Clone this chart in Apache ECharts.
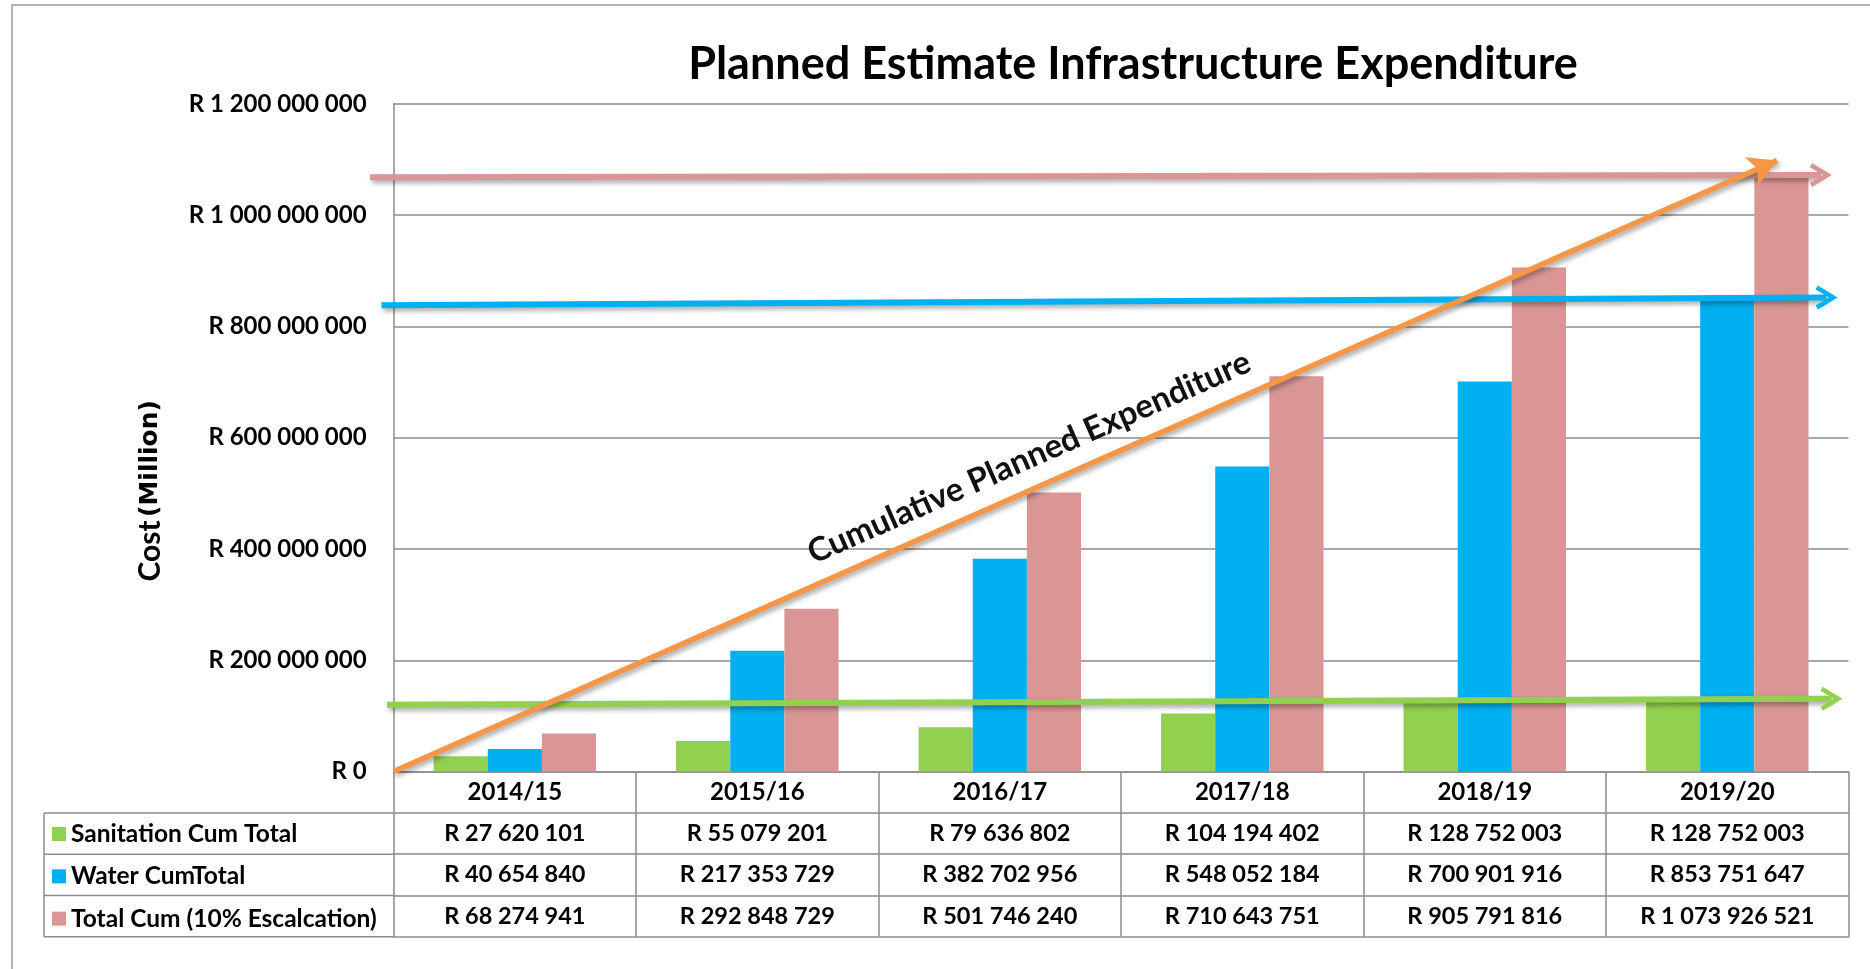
<!DOCTYPE html>
<html>
<head>
<meta charset="utf-8">
<script src="https://cdn.jsdelivr.net/npm/echarts@6/dist/echarts.min.js"></script>
<style>
  html, body { margin: 0; padding: 0; background: #fff; }
  #chart { width: 1870px; height: 969px; }
</style>
</head>
<body>
<div id="chart"></div>
<script>
// values
const years = ['2014/15', '2015/16', '2016/17', '2017/18', '2018/19', '2019/20'];
const sanitation = [27620101, 55079201, 79636802, 104194402, 128752003, 128752003];
const water = [40654840, 217353729, 382702956, 548052184, 700901916, 853751647];
const totalEsc = [68274941, 292848729, 501746240, 710643751, 905791816, 1073926521];

// annotation arrows, [x in category units, y in Rand]
const sanArrow = [[-0.027, 120e6], [5.93, 131e6]];
const waterArrow = [[-0.05, 838e6], [5.91, 852e6]];
const totalArrow = [[-0.097, 1068e6], [5.886, 1072e6]];
const cumArrow = [[0, 0], [5.705, 1098e6]];

const C_SAN = '#92D050', C_WAT = '#00B0F0', C_TOT = '#D99694', C_CUM = '#F79646';
const GRAY = '#8c8c8c';
const FONT = 'Lato';

// layout
const W = 1870, H = 969;
const gridL = 393.6, gridR = 1848.5, gridT = 103.8, gridB = 771.6;
const rowH = 41.3;
const tableL = 44;
const catW = (gridR - gridL) / 6;

const fmt = v => 'R ' + String(v).replace(/\B(?=(\d{3})+(?!\d))/g, ' ');

const chart = echarts.init(document.getElementById('chart'));

function tableAxis(data, row, showLabel, size) {
    return {
        type: 'category',
        gridIndex: 0,
        position: 'bottom',
        offset: rowH * row,
        data: data,
        axisLine: { show: true, lineStyle: { color: GRAY, width: 1.5 } },
        axisTick: { show: showLabel, length: rowH, interval: 0, lineStyle: { color: GRAY, width: 1.5 } },
        axisLabel: {
            show: showLabel, interval: 0, margin: 20.6 - size / 2,
            fontFamily: FONT, fontWeight: 'bold', fontSize: size, lineHeight: size, color: '#000'
        },
        splitLine: { show: false }
    };
}

function arrow(pts, color, width, head, size) {
    return {
        type: 'line',
        xAxisIndex: 5,
        yAxisIndex: 1,
        data: [],
        silent: true,
        markLine: {
            silent: true,
            animation: false,
            symbol: ['none', head],
            symbolSize: size,
            lineStyle: {
                color: color, width: width, type: 'solid',
                shadowColor: 'rgba(0,0,0,0.35)', shadowBlur: 5, shadowOffsetX: 2, shadowOffsetY: 3
            },
            label: { show: false },
            emphasis: { disabled: true },
            data: [[{ coord: pts[0] }, { coord: pts[1] }]]
        }
    };
}

const chevron = 'path://M0,9 L5,0 L10,9 L8.3,10 L5,4 L1.7,10 Z';

const cumSeries = arrow(cumArrow, C_CUM, 5.5, 'arrow', [24, 28]);
cumSeries.markLine.label = {
    show: true,
    position: 'insideStartTop',
    distance: [468, 14],
    formatter: 'Cumulative Planned Expenditure',
    fontFamily: FONT, fontWeight: 'bold', fontSize: 33, color: '#111'
};

const option = {
    animation: false,
    backgroundColor: '#fff',
    title: {
        text: 'Planned Estimate Infrastructure Expenditure',
        left: 1128,
        textAlign: 'center',
        top: 37,
        textStyle: { fontFamily: FONT, fontWeight: 'bold', fontSize: 45, lineHeight: 45, color: '#000' }
    },
    legend: {
        orient: 'vertical',
        left: 52,
        top: gridB + rowH + rowH / 2 - 12,
        padding: 0,
        itemGap: rowH - 24,
        itemWidth: 14,
        itemHeight: 14,
        icon: 'rect',
        selectedMode: false,
        data: ['Sanitation Cum Total', 'Water CumTotal', 'Total Cum (10% Escalcation)'],
        textStyle: { fontFamily: FONT, fontWeight: 'bold', fontSize: 24.5, lineHeight: 24, color: '#000' }
    },
    grid: [
        { left: gridL, right: W - gridR, top: gridT, bottom: H - gridB },
        { left: gridL - 0.2 * catW, right: W - gridR, top: gridT, bottom: H - gridB }
    ],
    xAxis: [
        tableAxis(years, 0, true, 24),
        tableAxis(sanitation.map(fmt), 1, true, 23.5),
        tableAxis(water.map(fmt), 2, true, 23.5),
        tableAxis(totalEsc.map(fmt), 3, true, 23.5),
        tableAxis(years, 4, false, 23.5),
        { type: 'value', gridIndex: 1, min: -0.2, max: 6, show: false }
    ],
    yAxis: [
        {
            type: 'value',
            gridIndex: 0,
            min: 0,
            max: 1200000000,
            interval: 200000000,
            name: '{a|Cost} {b|(Million)}',
            nameLocation: 'middle',
            nameRotate: 90,
            nameGap: 228,
            nameTextStyle: {
                padding: [0, 106, 0, 0],
                rich: {
                    a: { fontFamily: FONT, fontWeight: 'bold', fontSize: 30, color: '#000' },
                    b: { fontFamily: 'DejaVu Sans', fontWeight: 'bold', fontSize: 25, color: '#000' }
                }
            },
            axisLine: { show: true, lineStyle: { color: GRAY, width: 1.5 } },
            axisTick: { show: false },
            axisLabel: {
                margin: 27, formatter: fmt,
                fontFamily: FONT, fontWeight: 'bold', fontSize: 24, color: '#000'
            },
            splitLine: { lineStyle: { color: GRAY, width: 1.5 } }
        },
        { type: 'value', gridIndex: 1, min: 0, max: 1200000000, show: false }
    ],
    series: [
        {
            name: 'Sanitation Cum Total', type: 'bar', data: sanitation,
            barGap: '0%', barCategoryGap: '33%', itemStyle: { color: C_SAN }
        },
        {
            name: 'Water CumTotal', type: 'bar', data: water,
            barGap: '0%', barCategoryGap: '33%', itemStyle: { color: C_WAT }
        },
        {
            name: 'Total Cum (10% Escalcation)', type: 'bar', data: totalEsc,
            barGap: '0%', barCategoryGap: '33%', itemStyle: { color: C_TOT }
        },
        arrow(totalArrow, C_TOT, 6, chevron, [24, 22]),
        arrow(waterArrow, C_WAT, 6, chevron, [24, 22]),
        arrow(sanArrow, C_SAN, 6, chevron, [24, 22]),
        cumSeries
    ],
    graphic: [
        // outer chart frame
        { type: 'rect', shape: { x: 12, y: 5, width: 2000, height: 1200 },
          style: { fill: 'none', stroke: '#9a9a9a', lineWidth: 1.5 }, silent: true },
        // legend column of the data table
        { type: 'line', shape: { x1: tableL, y1: gridB + rowH, x2: tableL, y2: gridB + rowH * 4 },
          style: { stroke: GRAY, lineWidth: 1.5 } },
        { type: 'line', shape: { x1: tableL, y1: gridB + rowH, x2: gridL, y2: gridB + rowH },
          style: { stroke: GRAY, lineWidth: 1.5 } },
        { type: 'line', shape: { x1: tableL, y1: gridB + rowH * 2, x2: gridL, y2: gridB + rowH * 2 },
          style: { stroke: GRAY, lineWidth: 1.5 } },
        { type: 'line', shape: { x1: tableL, y1: gridB + rowH * 3, x2: gridL, y2: gridB + rowH * 3 },
          style: { stroke: GRAY, lineWidth: 1.5 } },
        { type: 'line', shape: { x1: tableL, y1: gridB + rowH * 4, x2: gridL, y2: gridB + rowH * 4 },
          style: { stroke: GRAY, lineWidth: 1.5 } }
    ]
};

chart.setOption(option);
</script>
</body>
</html>
